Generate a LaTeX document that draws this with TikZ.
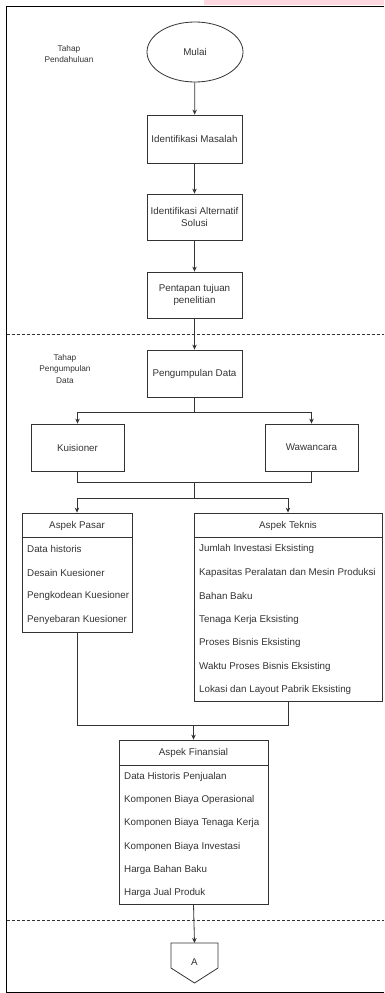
\documentclass[tikz,border=0pt]{standalone}
\usepackage{fontspec}
\setmainfont{Liberation Sans}
\usetikzlibrary{arrows.meta,shapes.geometric}
\definecolor{pinkbar}{HTML}{FFD9DF}
\begin{document}
\begin{tikzpicture}[x=1pt,y=-1pt,
  ln/.style={draw=black!80, line width=0.8pt},
  arr/.style={ln, -{Stealth[length=5pt,width=4.5pt]}},
  txt/.style={text=black!80, font=\fontsize{9.8}{11.5}\selectfont, inner sep=0pt},
  fbox/.style={ln, rectangle, txt, align=center, minimum width=95pt, minimum height=46pt},
  sbox/.style={ln, rectangle, minimum width=93pt, minimum height=47pt, txt},
  lbox/.style={ln, rectangle, inner sep=0pt},
  item/.style={txt, anchor=west},
  tah/.style={text=black!80, font=\fontsize{8.3}{11.8}\selectfont, align=center, inner sep=0pt},
  dashsep/.style={draw=black!80, line width=0.7pt, dash pattern=on 3pt off 2pt}
]
\useasboundingbox (0,0) rectangle (384,993);
% top strip
\fill[pinkbar] (204,0) rectangle (384,5);
% frame
\coordinate (ftr) at (384,6.5);
\coordinate (ftl) at (6.5,6.5);
\coordinate (fbl) at (6.5,992);
\coordinate (fbr) at (384,992);
\draw[ln, draw=black, line width=1pt] (ftr) -- (ftl) -- (fbl) -- (fbr);
% dashed separators
\coordinate (d1l) at (6.5,334); \coordinate (d1r) at (384,334);
\coordinate (d2l) at (6.5,920); \coordinate (d2r) at (384,920);
\draw[dashsep] (d1l) -- (d1r);
\draw[dashsep] (d2l) -- (d2r);

% phase labels
\node[tah] (tahap1) at (69,54) {Tahap\\Pendahuluan};
\node[tah] (tahap2) at (65,369) {Tahap\\Pengumpulan\\Data};

% first phase
\node[ln, ellipse, minimum width=96pt, minimum height=60pt, txt] (mulai) at (195,52) {Mulai};
\node[fbox, minimum height=48pt] (im) at (194.5,139) {Identifikasi Masalah};
\node[fbox] (ias) at (194.5,217) {Identifikasi Alternatif\\Solusi};
\node[fbox] (ptp) at (194.5,295) {Pentapan tujuan\\penelitian};
\node[fbox, minimum height=47pt] (pd) at (194.5,373.5) {Pengumpulan Data};

\draw[arr] (mulai) -- (im);
\draw[arr] (im) -- (ias);
\draw[arr] (ias) -- (ptp);
\draw[arr] (ptp) -- (pd);

% Kuisioner / Wawancara
\node[sbox] (kuis) at (77.5,447.5) {Kuisioner};
\node[sbox] (waw) at (311.5,447.5) {Wawancara};
\coordinate (j1) at (194.5,412);
\draw[ln] (pd.south) -- (j1);
\draw[arr] (j1) -| (kuis.north);
\draw[arr] (j1) -| (waw.north);

\coordinate (j2) at (194.5,482);
\draw[ln] (kuis.south) |- (j2);
\draw[ln] (waw.south) |- (j2);
\coordinate (j3) at (194.5,498);
\draw[ln] (j2) -- (j3);

% Aspek Pasar
\node[lbox, minimum width=110pt, minimum height=119pt] (pasar) at (77,572.5) {};
\draw[ln] ([yshift=-25pt]pasar.north west) -- ([yshift=-25pt]pasar.north east);
\node[txt] (pasarh) at ([yshift=-13pt]pasar.north) {Aspek Pasar};
\node[item] (p1) at (27,549) {Data historis};
\node[item] (p2) at (27,572.5) {Desain Kuesioner};
\node[item] (p3) at (27,596) {Pengkodean Kuesioner};
\node[item] (p4) at (27,619.5) {Penyebaran Kuesioner};

% Aspek Teknis
\node[lbox, minimum width=188pt, minimum height=188pt] (teknis) at (288,607) {};
\draw[ln] ([yshift=-25pt]teknis.north west) -- ([yshift=-25pt]teknis.north east);
\node[txt] (teknish) at ([yshift=-13pt]teknis.north) {Aspek Teknis};
\node[item] (t1) at (199,549) {Jumlah Investasi Eksisting};
\node[item] (t2) at (199,572.5) {Kapasitas Peralatan dan Mesin Produksi};
\node[item] (t3) at (199,596) {Bahan Baku};
\node[item] (t4) at (199,619.5) {Tenaga Kerja Eksisting};
\node[item] (t5) at (199,643) {Proses Bisnis Eksisting};
\node[item] (t6) at (199,666.5) {Waktu Proses Bisnis Eksisting};
\node[item] (t7) at (199,690) {Lokasi dan Layout Pabrik Eksisting};

\draw[arr] (j3) -| (pasar.north);
\draw[arr] (j3) -| (teknis.north);

% Aspek Finansial
\node[lbox, minimum width=149pt, minimum height=164pt] (fin) at (193.5,822) {};
\draw[ln] ([yshift=-26pt]fin.north west) -- ([yshift=-26pt]fin.north east);
\node[txt] (finh) at ([yshift=-13pt]fin.north) {Aspek Finansial};
\node[item] (f1) at (124,777) {Data Historis Penjualan};
\node[item] (f2) at (124,800.2) {Komponen Biaya Operasional};
\node[item] (f3) at (124,823.4) {Komponen Biaya Tenaga Kerja};
\node[item] (f4) at (124,846.6) {Komponen Biaya Investasi};
\node[item] (f5) at (124,869.8) {Harga Bahan Baku};
\node[item] (f6) at (124,893) {Harga Jual Produk};

\coordinate (j4) at (193.5,725);
\draw[ln] (pasar.south) |- (j4);
\draw[ln] (teknis.south) |- (j4);
\draw[arr] (j4) -- (fin.north);

% off-page connector
\coordinate (ca) at (171,943);
\coordinate (cb) at (218,943);
\coordinate (cc) at (218,968);
\coordinate (cd) at (194.5,983);
\coordinate (ce) at (171,968);
\draw[ln, line join=miter] (ca) -- (cb) -- (cc) -- (cd) -- (ce) -- cycle;
\node[txt] (offA) at (194.5,962) {A};
\coordinate (ctop) at (194.5,943);
\draw[arr] (fin.south) -- (ctop);
\end{tikzpicture}
\end{document}
